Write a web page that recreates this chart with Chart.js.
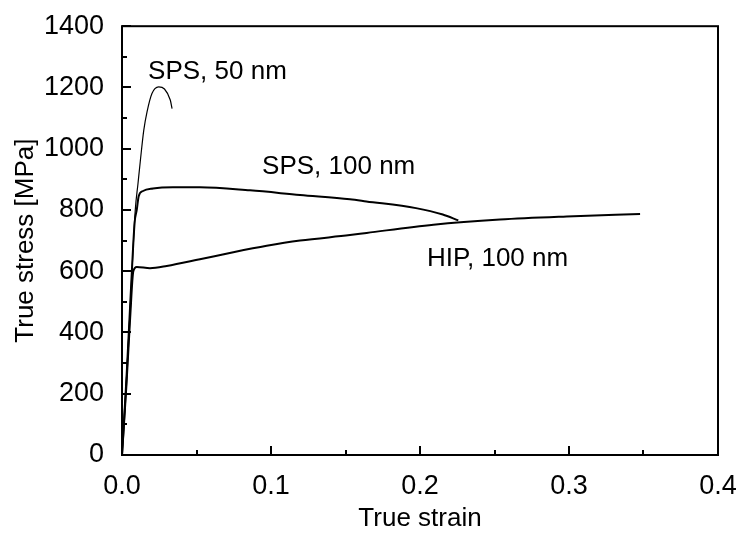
<!DOCTYPE html>
<html>
<head>
<meta charset="utf-8">
<script src="https://cdn.jsdelivr.net/npm/chart.js@4/dist/chart.umd.min.js"></script>
<style>
    html, body { margin: 0; padding: 0; background: #fff; }
    #wrap { width: 736px; height: 534px; }
</style>
</head>
<body>
<div id="wrap"><canvas id="stressChart"></canvas></div>
<script>
// curves (strain, MPa)
var sps50Strain = [0, 0.002, 0.004, 0.006, 0.0089, 0.0107, 0.0123, 0.0146, 0.0168, 0.0201, 0.0246, 0.0285, 0.0324, 0.0336];
var sps50Stress = [0, 160, 340, 530, 800, 885, 960, 1060, 1120, 1180, 1202, 1195, 1159, 1131];

var sps100Strain = [0, 0.003, 0.006, 0.0085, 0.0099, 0.0112, 0.0141, 0.0208, 0.0342, 0.0523, 0.0859, 0.1195, 0.153, 0.164, 0.1973, 0.2153, 0.2257];
var sps100Stress = [0, 250, 540, 760, 800, 845, 862, 870, 874, 874, 864, 849, 835, 828, 806, 785, 766];

var hipStrain = [0, 0.003, 0.0055, 0.0076, 0.0099, 0.0188, 0.030, 0.0523, 0.0747, 0.0971, 0.1195, 0.153, 0.1642, 0.209, 0.2537, 0.2984, 0.3477];
var hipStress = [0, 230, 450, 600, 614, 610, 617, 639, 662, 683, 700, 718, 725, 752, 769, 779, 787];

var curveLabels = ['SPS, 50 nm', 'SPS, 100 nm', 'HIP, 100 nm'];
var labelStrain = [0.0175, 0.094, 0.2047];
var labelStress = [1228, 916, 617];

var xTicks = [0, 0.1, 0.2, 0.3, 0.4];
var yTicks = [0, 200, 400, 600, 800, 1000, 1200, 1400];

var FONT = '"Liberation Sans", Arial, sans-serif';

function pts(xs, ys) {
    return xs.map(function (x, i) { return { x: x, y: ys[i] }; });
}

// frame, inward ticks and the curve names
var decor = {
    id: 'decor',
    afterDraw: function (chart) {
        var c = chart.ctx;
        var a = chart.chartArea;
        var xs = chart.scales.x;
        var ys = chart.scales.y;
        c.save();
        c.strokeStyle = '#000';
        c.lineWidth = 2;
        c.strokeRect(a.left, a.top, a.right - a.left, a.bottom - a.top);

        c.beginPath();
        for (var v = 0; v <= 0.4001; v += 0.05) {
            var px = Math.round(xs.getPixelForValue(v));
            var len = (Math.round(v * 100) % 10 === 0) ? 9 : 5;
            c.moveTo(px, a.bottom);
            c.lineTo(px, a.bottom - len);
        }
        for (var s = 0; s <= 1400; s += 100) {
            var py = Math.round(ys.getPixelForValue(s));
            var l2 = (s % 200 === 0) ? 9 : 5;
            c.moveTo(a.left, py);
            c.lineTo(a.left + l2, py);
        }
        c.stroke();

        c.fillStyle = '#000';
        c.font = '26px ' + FONT;
        c.textAlign = 'left';
        c.textBaseline = 'alphabetic';
        curveLabels.forEach(function (t, i) {
            c.fillText(t, xs.getPixelForValue(labelStrain[i]), ys.getPixelForValue(labelStress[i]));
        });
        c.restore();
    }
};

var ctx = document.getElementById('stressChart');
window.myChart = new Chart(ctx, {
    type: 'line',
    data: {
        datasets: [{
            label: curveLabels[0],
            data: pts(sps50Strain, sps50Stress),
            borderColor: '#000',
            borderWidth: 1.2,
            cubicInterpolationMode: 'monotone'
        }, {
            label: curveLabels[1],
            data: pts(sps100Strain, sps100Stress),
            borderColor: '#000',
            borderWidth: 2,
            cubicInterpolationMode: 'monotone'
        }, {
            label: curveLabels[2],
            data: pts(hipStrain, hipStress),
            borderColor: '#000',
            borderWidth: 2,
            cubicInterpolationMode: 'monotone'
        }]
    },
    options: {
        responsive: true,
        maintainAspectRatio: false,
        animation: false,
        elements: { point: { radius: 0 } },
        layout: { padding: { top: 26, right: 0, left: 0, bottom: 0 } },
        plugins: {
            legend: { display: false },
            tooltip: { enabled: false }
        },
        scales: {
            x: {
                type: 'linear',
                min: 0,
                max: 0.4,
                afterBuildTicks: function (scale) {
                    scale.ticks = xTicks.map(function (v) { return { value: v }; });
                },
                afterFit: function (scale) {
                    scale.height = 79;
                    scale.paddingRight = 18;
                },
                grid: { display: false },
                border: { display: false },
                ticks: {
                    padding: 7,
                    color: '#000',
                    font: { size: 27, family: FONT },
                    maxRotation: 0,
                    callback: function (v) { return v.toFixed(1); }
                },
                title: {
                    display: true,
                    text: 'True strain',
                    color: '#000',
                    font: { size: 26, family: FONT },
                    padding: { top: 0, bottom: 0 }
                }
            },
            y: {
                type: 'linear',
                min: 0,
                max: 1400,
                afterBuildTicks: function (scale) {
                    scale.ticks = yTicks.map(function (v) { return { value: v }; });
                },
                afterFit: function (scale) { scale.width = 122; },
                grid: { display: false },
                border: { display: false },
                ticks: {
                    padding: 10,
                    color: '#000',
                    font: { size: 27, family: FONT },
                    callback: function (v) { return String(v); }
                },
                title: {
                    display: true,
                    text: 'True stress [MPa]',
                    color: '#000',
                    font: { size: 26, family: FONT },
                    padding: { top: 10, bottom: 0 }
                }
            }
        }
    },
    plugins: [decor]
});
</script>
</body>
</html>
